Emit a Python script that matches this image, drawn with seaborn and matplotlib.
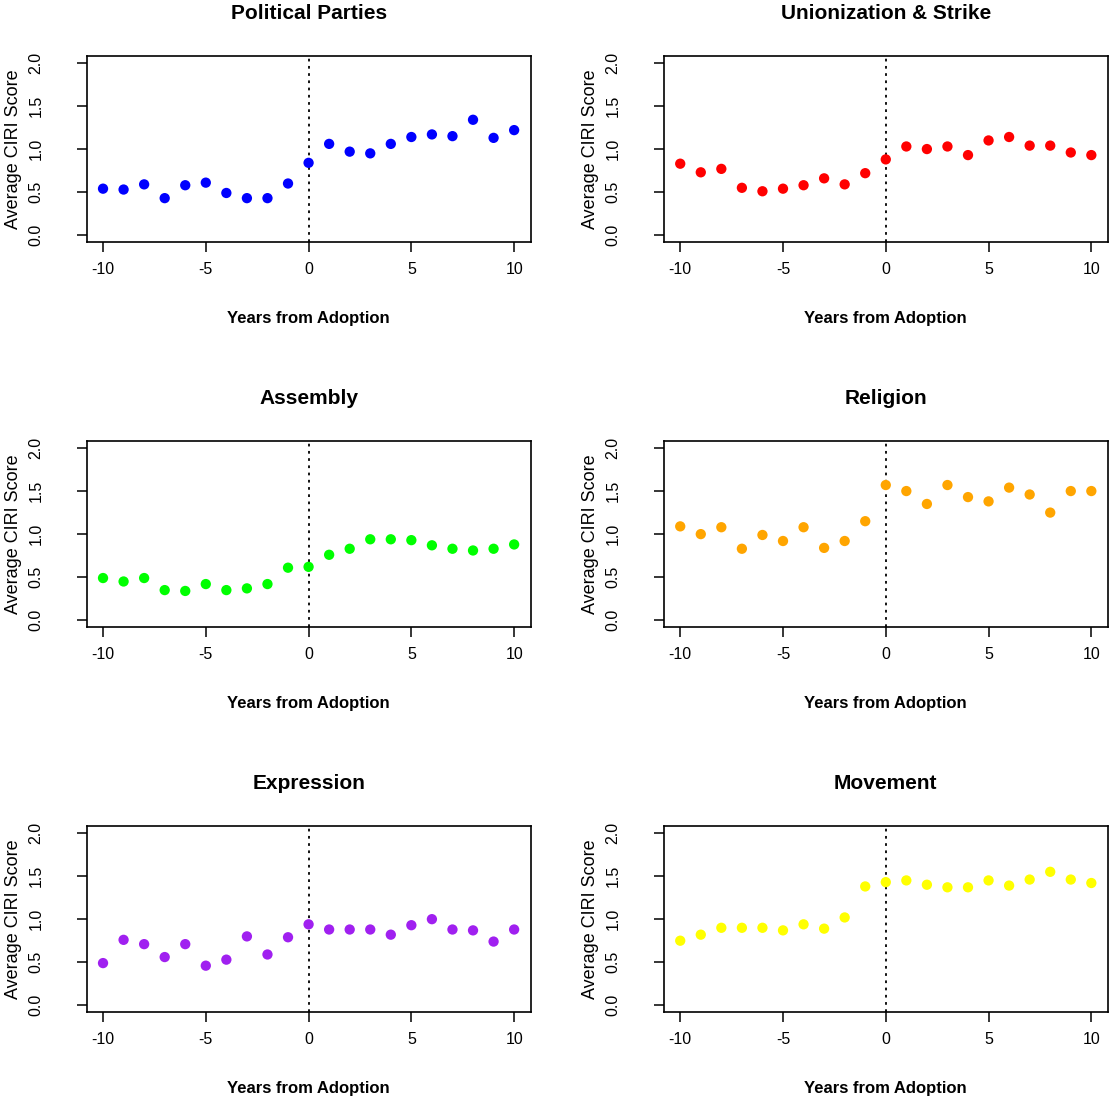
import numpy as np
import pandas as pd
import seaborn as sns
import matplotlib
matplotlib.use("Agg")
import matplotlib.pyplot as plt

# years relative to adoption
years = list(range(-10, 11))

titles = ["Political Parties", "Unionization & Strike", "Assembly",
          "Religion", "Expression", "Movement"]
colors = ["#0000FF", "#FF0000", "#00FF00", "#FFA500", "#A020F0", "#FFFF00"]

parties = [0.54, 0.53, 0.59, 0.43, 0.58, 0.61, 0.49, 0.43, 0.43, 0.60, 0.84,
           1.06, 0.97, 0.95, 1.06, 1.14, 1.17, 1.15, 1.34, 1.13, 1.22]
union = [0.83, 0.73, 0.77, 0.55, 0.51, 0.54, 0.58, 0.66, 0.59, 0.72, 0.88,
         1.03, 1.00, 1.03, 0.93, 1.10, 1.14, 1.04, 1.04, 0.96, 0.93]
assembly = [0.49, 0.45, 0.49, 0.35, 0.34, 0.42, 0.35, 0.37, 0.42, 0.61, 0.62,
            0.76, 0.83, 0.94, 0.94, 0.93, 0.87, 0.83, 0.81, 0.83, 0.88]
religion = [1.09, 1.00, 1.08, 0.83, 0.99, 0.92, 1.08, 0.84, 0.92, 1.15, 1.57,
            1.50, 1.35, 1.57, 1.43, 1.38, 1.54, 1.46, 1.25, 1.50, 1.50]
expression = [0.49, 0.76, 0.71, 0.56, 0.71, 0.46, 0.53, 0.80, 0.59, 0.79, 0.94,
              0.88, 0.88, 0.88, 0.82, 0.93, 1.00, 0.88, 0.87, 0.74, 0.88]
movement = [0.75, 0.82, 0.90, 0.90, 0.90, 0.87, 0.94, 0.89, 1.02, 1.38, 1.43,
            1.45, 1.40, 1.37, 1.37, 1.45, 1.39, 1.46, 1.55, 1.46, 1.42]

series = [parties, union, assembly, religion, expression, movement]

sns.set_style("ticks")
plt.rcParams["font.family"] = ["Liberation Sans", "DejaVu Sans"]
plt.rcParams["axes.unicode_minus"] = False
plt.rcParams["text.color"] = "black"
plt.rcParams["axes.labelcolor"] = "black"

fig, axes = plt.subplots(3, 2, figsize=(11.1, 10.99), dpi=100)
fig.subplots_adjust(left=0.078, right=0.998, bottom=0.079, top=0.949,
                    wspace=0.30, hspace=1.07)

for ax, title, col, vals in zip(axes.flat, titles, colors, series):
    df = pd.DataFrame({"year": years, "score": vals})
    sns.scatterplot(data=df, x="year", y="score", color=col, s=55,
                    edgecolor="none", ax=ax, zorder=3)
    ax.axvline(0, color="black", linestyle=(0, (1.5, 2.5)), linewidth=1.3)
    ax.set_xlim(-10.8, 10.8)
    ax.set_ylim(-0.08, 2.08)
    ax.set_xticks([-10, -5, 0, 5, 10])
    ax.set_yticks([0, 0.5, 1.0, 1.5, 2.0])
    ax.set_yticklabels(["0.0", "0.5", "1.0", "1.5", "2.0"], rotation=90,
                       va="center")
    ax.tick_params(length=7, width=1.1, labelsize=11.5, color="black",
                   labelcolor="black")
    ax.tick_params(axis="x", pad=7)
    ax.tick_params(axis="y", pad=24)
    for sp in ax.spines.values():
        sp.set_linewidth(1.2)
        sp.set_color("black")
    ax.set_title(title, fontsize=15, fontweight="bold", pad=27)
    ax.set_xlabel("Years from Adoption", fontsize=12, fontweight="bold",
                  labelpad=25)
    ax.set_ylabel("Average CIRI Score", fontsize=13, labelpad=5)

fig.savefig("out.png", dpi=100, facecolor="white")
